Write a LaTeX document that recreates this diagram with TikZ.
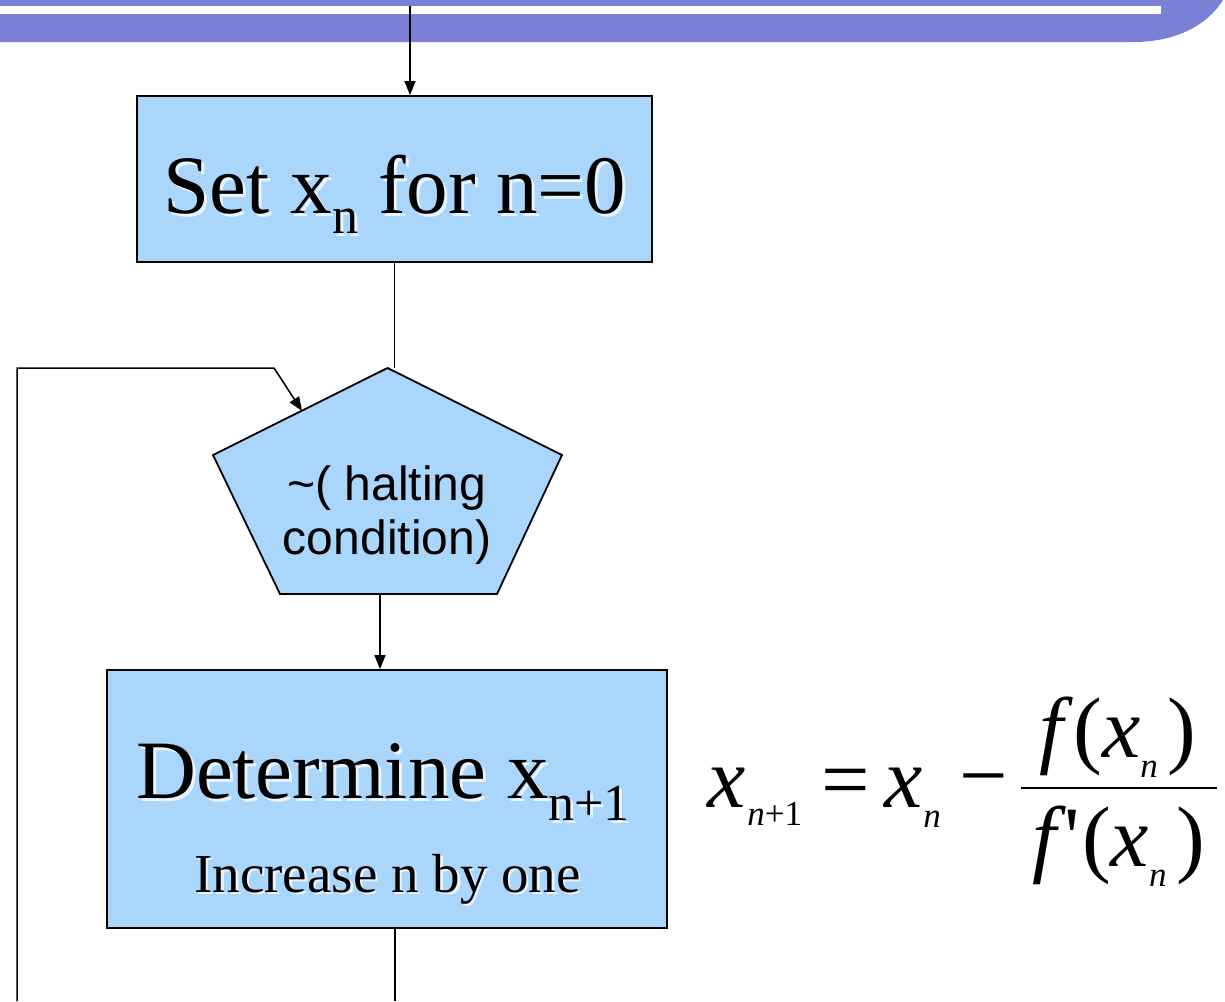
\documentclass[tikz,border=0pt]{standalone}
\usepackage{fontspec}
\setmainfont{Liberation Serif}
\newfontfamily\arialf{Liberation Sans}
\usetikzlibrary{arrows.meta}
\definecolor{hdr}{RGB}{121,128,214}
\definecolor{boxblue}{RGB}{170,214,252}
\tikzset{
  flowbox/.style={draw=black, line width=0.9pt, fill=boxblue, inner sep=0pt},
  conn/.style={line width=0.75pt, draw=black},
  arr/.style={conn, -{Triangle[length=7pt,width=5.5pt]}},
  bigtxt/.style={font=\fontsize{41.5}{45}\selectfont, inner sep=0pt, anchor=base},
  shadow/.style={text=white, text opacity=0.75},
  fml/.style={font=\fontsize{43}{46}\selectfont\itshape, inner sep=0pt},
  fsub/.style={font=\fontsize{17.5}{19}\selectfont\itshape, inner sep=0pt, anchor=base west},
}
\newcommand\subd[2]{\raisebox{-#1}{\fontsize{26}{26}\selectfont #2}}
\newcommand\fsb[1]{\raisebox{-10pt}{\fontsize{17.5}{19}\selectfont\itshape #1}}
\begin{document}
\begin{tikzpicture}[x=0.5pt,y=-0.5pt]
\useasboundingbox (0,0) rectangle (1225,1001);
% header band
\fill[hdr] (0,0) -- (1223,0) .. controls (1208,24) and (1178,42) .. (1133,42) -- (0,42) -- cycle;
\fill[white] (0,6) rectangle (1161,14);

% boxes
\node[flowbox, minimum width=257.5pt, minimum height=83pt] (box1) at (394.5,179) {};
\node[bigtxt, shadow] (t1s) at (398,216) {Set x\subd{10pt}{n} for n=0};
\node[bigtxt] (t1) at (395,213) {Set x\subd{10pt}{n} for n=0};

\coordinate (pA) at (387.5,368);
\coordinate (pR) at (562,455);
\coordinate (pBR) at (497,594);
\coordinate (pBL) at (280,594);
\coordinate (pL) at (213,455);
\filldraw[flowbox] (pA) -- (pR) -- (pBR) -- (pBL) -- (pL) -- cycle;
\node[font=\arialf\fontsize{24}{27}\selectfont, align=center, inner sep=0pt] (cond) at (387,515) {\textasciitilde( halting\\condition)};

\node[flowbox, minimum width=280pt, minimum height=129pt] (box2) at (387,799) {};
\node[bigtxt, shadow] (t2s) at (386,801) {Determine x\subd{11pt}{n+1}};
\node[bigtxt] (t2) at (383,798) {Determine x\subd{11pt}{n+1}};
\node[bigtxt, shadow, font=\fontsize{27.5}{30}\selectfont] (t3s) at (390,894.5) {Increase n by one};
\node[bigtxt, font=\fontsize{27.5}{30}\selectfont] (t3) at (387.5,892) {Increase n by one};

% connectors
\coordinate (src) at (410,6);
\draw[arr] (src) -- (src |- box1.north);
\draw[conn] (box1.south) -- (box1.south |- pA);
\coordinate (pB) at (380,594);
\draw[arr] (pB) -- (pB |- box2.north);
\coordinate (out) at (395,1001);
\draw[conn] (box2.south -| out) -- (out);
\coordinate (lb) at (17,1001);
\coordinate (lt) at (17,368);
\coordinate (lk) at (274,368);
\coordinate (lend) at (302,411);
\draw[arr] (lb) -- (lt) -- (lk) -- (lend);

% formula
\node[fml, anchor=base west] (fx) at (707,807) {x};
\node[fsub] (fs1) at (747,825) {n\upshape+1};
\node[fml, font=\fontsize{43}{46}\selectfont] (feq) at (846,789) {=};
\node[fml, anchor=base west] (fx2) at (884,807) {x};
\node[fsub] (fs2) at (923,827) {n};
\node[fml, font=\fontsize{43}{46}\selectfont] (fmin) at (984,789) {−};
\node[fml, anchor=base] (fnum) at (1118,757) {f\kern5pt\upshape(\itshape x\fsb{n}\kern5pt\upshape)};
\node[fml, anchor=base] (fden) at (1119,866) {f\kern4pt\upshape\textquotesingle\kern1pt(\itshape x\fsb{n}\kern5pt\upshape)};
\draw[line width=1pt] (1021,788) -- (1217,788);
\end{tikzpicture}
\end{document}
